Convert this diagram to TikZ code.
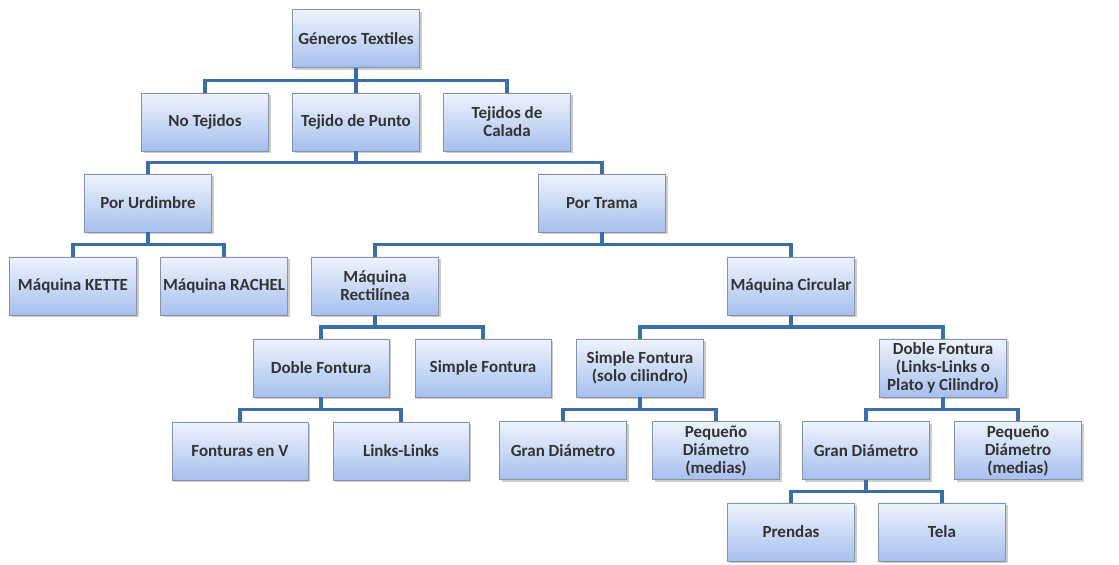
\documentclass[tikz,border=0pt]{standalone}
\usepackage{fontspec}
\setmainfont{Carlito}
\usepackage{tikz}
\usetikzlibrary{positioning,calc,shadows}
\definecolor{boxtop}{HTML}{EEF3FC}
\definecolor{boxbottom}{HTML}{A6BFEE}
\definecolor{boxline}{HTML}{8592A8}
\definecolor{linkblue}{HTML}{3B6DA6}
\definecolor{textgray}{HTML}{333333}
\begin{document}
\begin{tikzpicture}[box/.style={draw=boxline,line width=0.6pt,top color=boxtop,bottom color=boxbottom,
        minimum width=3.175cm,minimum height=1.45cm,inner sep=1pt,align=center,text=textgray,
        font=\fontsize{12.1}{12.8}\selectfont\bfseries,
        drop shadow={opacity=0.4,shadow xshift=0.05cm,shadow yshift=-0.06cm}},
    wide/.style={minimum width=3.4cm},
    link/.style={draw=linkblue,line width=2.2pt}]

    \useasboundingbox (0, 0) rectangle (27.975, 14.125);

    \node[box](gt) at (8.9, 13.16) {Géneros Textiles};

    \node[box](nt) at (5.125, 11.075) {No Tejidos};
    \node[box](tp) at (8.9, 11.075) {Tejido de Punto};
    \node[box](tc) at (12.675, 11.075) {Tejidos de\\Calada};

    \node[box](pu) at (3.7, 9.05) {Por Urdimbre};
    \node[box](pt) at (15.05, 9.05) {Por Trama};

    \node[box](mk) at (1.825, 6.975) {Máquina KETTE};
    \node[box](mr) at (5.6, 6.975) {Máquina RACHEL};
    \node[box](mre) at (9.375, 6.975) {Máquina\\Rectilínea};
    \node[box](mc) at (19.775, 6.975) {Máquina Circular};

    \node[box,wide](df) at (8.025, 4.925) {Doble Fontura};
    \node[box,wide](sf) at (12.075, 4.925) {Simple Fontura};
    \node[box](sfc) at (16.0, 4.925) {Simple Fontura\\(solo cilindro)};
    \node[box](dfc) at (23.575, 4.925) {Doble Fontura\\(Links-Links o\\Plato y Cilindro)};

    \node[box,wide](fv) at (6.0, 2.85) {Fonturas en V};
    \node[box,wide](ll) at (10.025, 2.85) {Links-Links};
    \node[box](gd1) at (14.075, 2.86) {Gran Diámetro};
    \node[box](pd1) at (17.9, 2.86) {Pequeño\\Diámetro\\(medias)};
    \node[box](gd2) at (21.65, 2.86) {Gran Diámetro};
    \node[box](pd2) at (25.45, 2.86) {Pequeño\\Diámetro\\(medias)};

    \node[box](pr) at (19.775, 0.825) {Prendas};
    \node[box](te) at (23.55, 0.825) {Tela};

    \foreach \p/\c in {gt/nt,gt/tp,gt/tc,tp/pu,tp/pt,pu/mk,pu/mr,pt/mre,pt/mc,
        mre/df,mre/sf,df/fv,df/ll,mc/sfc,mc/dfc,sfc/gd1,sfc/pd1,dfc/gd2,dfc/pd2,gd2/pr,gd2/te}
        \draw[link] (\p.south) |- ($(\p.south)!.5!(\c.north)$) -| (\c.north);

\end{tikzpicture}
\end{document}
